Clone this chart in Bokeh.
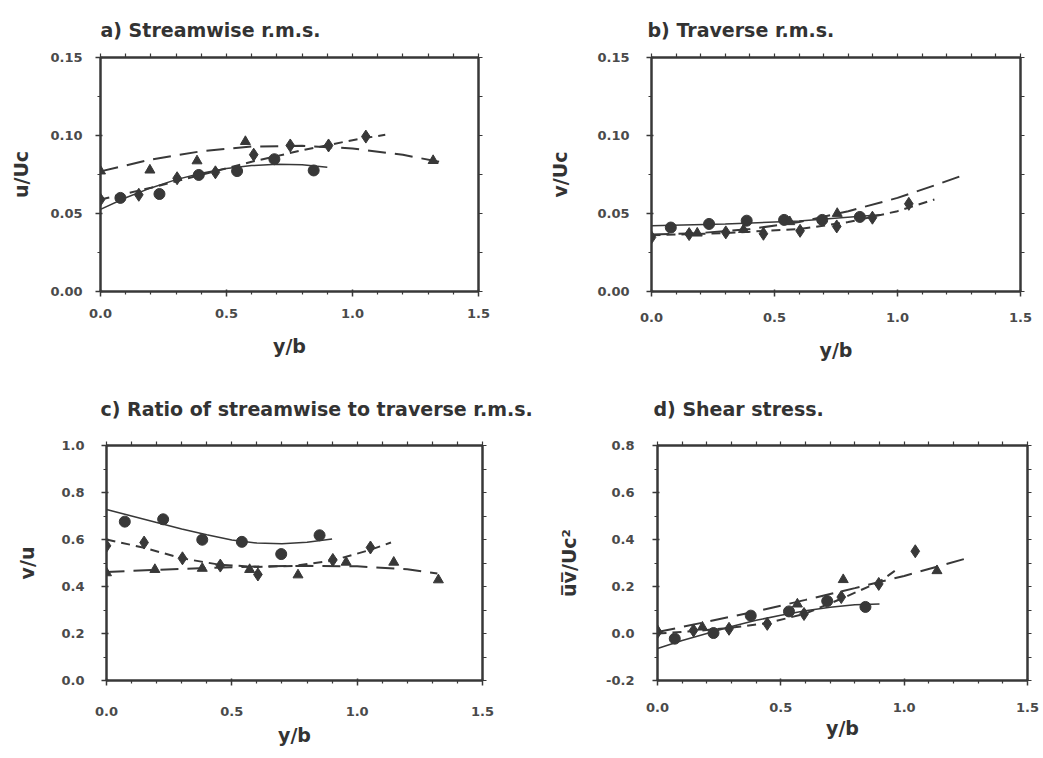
from bokeh.plotting import figure
from bokeh.layouts import row, column
from bokeh.models import FixedTicker, LinearAxis, Range1d, PrintfTickFormatter
from bokeh.embed import file_html
from bokeh.resources import INLINE

# ---------------- data ----------------
# a) Streamwise r.m.s.  (y/b vs u/Uc)
a_circ_x = [0.079, 0.234, 0.39, 0.542, 0.69, 0.846]
a_circ_y = [0.060, 0.0625, 0.0747, 0.0772, 0.0848, 0.0776]
a_diam_x = [0.0, 0.152, 0.304, 0.456, 0.608, 0.753, 0.905, 1.053]
a_diam_y = [0.0589, 0.062, 0.0726, 0.0764, 0.0877, 0.0936, 0.0936, 0.0993]
a_tri_x = [0.0, 0.196, 0.383, 0.575, 1.32]
a_tri_y = [0.0772, 0.0778, 0.0837, 0.0961, 0.0839]
a_circ_fit_x = [0.0, 0.1, 0.2, 0.3, 0.4, 0.5, 0.6, 0.7, 0.8, 0.9]
a_circ_fit_y = [0.0526, 0.0601, 0.0664, 0.0717, 0.0758, 0.0788, 0.0807, 0.0815, 0.0812, 0.0797]
a_diam_fit_x = [0.0, 0.2, 0.4, 0.6, 0.8, 1.0, 1.13]
a_diam_fit_y = [0.059, 0.0665, 0.0748, 0.0832, 0.0905, 0.097, 0.1005]
a_tri_fit_x = [0.0, 0.2, 0.4, 0.6, 0.8, 1.0, 1.2, 1.35]
a_tri_fit_y = [0.077, 0.0846, 0.0899, 0.0929, 0.0934, 0.0917, 0.0876, 0.0830]

# b) Traverse r.m.s.  (y/b vs v/Uc)
b_circ_x = [0.0785, 0.234, 0.387, 0.539, 0.694, 0.847]
b_circ_y = [0.041, 0.0433, 0.0454, 0.0459, 0.0459, 0.0478]
b_diam_x = [0.0, 0.153, 0.302, 0.455, 0.604, 0.753, 0.898, 1.046]
b_diam_y = [0.0347, 0.0368, 0.0379, 0.037, 0.0389, 0.0417, 0.0473, 0.0562]
b_tri_x = [0.186, 0.374, 0.562, 0.755]
b_tri_y = [0.0374, 0.0397, 0.0447, 0.050]
b_circ_fit_x = [0.0, 0.3, 0.6, 0.93]
b_circ_fit_y = [0.0422, 0.0432, 0.0452, 0.0492]
b_diam_fit_x = [0.0, 0.3, 0.6, 0.8, 1.0, 1.15]
b_diam_fit_y = [0.036, 0.0375, 0.040, 0.0445, 0.0515, 0.059]
b_tri_fit_x = [0.0, 0.2, 0.4, 0.6, 0.8, 1.0, 1.15, 1.27]
b_tri_fit_y = [0.0365, 0.0375, 0.040, 0.0445, 0.0515, 0.060, 0.068, 0.0747]

# c) Ratio of streamwise to traverse r.m.s.  (y/b vs v/u)
c_circ_x = [0.073, 0.226, 0.382, 0.54, 0.697, 0.85]
c_circ_y = [0.676, 0.686, 0.599, 0.59, 0.538, 0.618]
c_diam_x = [0.0, 0.15, 0.303, 0.454, 0.604, 0.903, 1.053]
c_diam_y = [0.573, 0.587, 0.52, 0.489, 0.451, 0.513, 0.566]
c_tri_x = [0.0, 0.193, 0.382, 0.571, 0.764, 0.956, 1.146, 1.324]
c_tri_y = [0.458, 0.472, 0.477, 0.472, 0.449, 0.503, 0.503, 0.428]
c_circ_fit_x = [0.0, 0.1, 0.2, 0.3, 0.4, 0.5, 0.6, 0.7, 0.8, 0.9]
c_circ_fit_y = [0.728, 0.700, 0.672, 0.645, 0.620, 0.598, 0.585, 0.582, 0.588, 0.602]
c_diam_fit_x = [0.0, 0.15, 0.3, 0.45, 0.6, 0.75, 0.9, 1.05, 1.135]
c_diam_fit_y = [0.60, 0.565, 0.52, 0.493, 0.483, 0.488, 0.51, 0.555, 0.587]
c_tri_fit_x = [0.0, 0.2, 0.4, 0.6, 0.8, 1.0, 1.2, 1.32]
c_tri_fit_y = [0.462, 0.471, 0.479, 0.485, 0.488, 0.486, 0.473, 0.455]

# d) Shear stress  (y/b vs uv/Uc^2)
d_circ_x = [0.07, 0.227, 0.378, 0.533, 0.688, 0.843]
d_circ_y = [-0.022, 0.002, 0.076, 0.094, 0.138, 0.113]
d_diam_x = [0.0, 0.146, 0.29, 0.445, 0.594, 0.745, 0.897, 1.045]
d_diam_y = [0.006, 0.013, 0.02, 0.041, 0.083, 0.155, 0.211, 0.35]
d_tri_x = [0.0, 0.182, 0.567, 0.753, 1.133]
d_tri_y = [0.013, 0.027, 0.125, 0.229, 0.267]
d_circ_fit_x = [0.0, 0.1, 0.2, 0.3, 0.4, 0.5, 0.6, 0.7, 0.8, 0.9]
d_circ_fit_y = [-0.064, -0.03, 0.0, 0.03, 0.056, 0.078, 0.097, 0.112, 0.122, 0.126]
d_diam_fit_x = [0.0, 0.15, 0.3, 0.45, 0.6, 0.75, 0.9, 0.98]
d_diam_fit_y = [0.0, 0.01, 0.025, 0.045, 0.085, 0.15, 0.22, 0.28]
d_tri_fit_x = [0.0, 0.2, 0.4, 0.6, 0.8, 1.0, 1.26]
d_tri_fit_y = [0.006, 0.05, 0.094, 0.143, 0.193, 0.245, 0.322]

x_ticks = [0.0, 0.5, 1.0, 1.5]
a_ticks = [0.0, 0.05, 0.10, 0.15]
b_ticks = [0.0, 0.05, 0.10, 0.15]
c_ticks = [0.0, 0.2, 0.4, 0.6, 0.8, 1.0]
d_ticks = [-0.2, 0.0, 0.2, 0.4, 0.6, 0.8]

INK = "#383838"
FONT = "DejaVu Sans"


def minor(ticks, n):
    out = []
    for t0, t1 in zip(ticks[:-1], ticks[1:]):
        for k in range(1, n):
            out.append(t0 + (t1 - t0) * k / n)
    return out


def style_lines(ax):
    ax.axis_line_color = INK
    ax.axis_line_width = 2
    ax.major_tick_line_color = INK
    ax.major_tick_line_width = 1.5
    ax.minor_tick_line_color = INK
    ax.minor_tick_line_width = 1.2


def main_axis(ax, ticks, minors, fmt, tick_so, label, label_so):
    ax.ticker = FixedTicker(ticks=ticks, minor_ticks=minors)
    style_lines(ax)
    ax.major_tick_out = 5
    ax.major_tick_in = 2
    ax.minor_tick_out = 3
    ax.minor_tick_in = 0
    ax.formatter = PrintfTickFormatter(format=fmt)
    ax.major_label_text_font = FONT
    ax.major_label_text_font_style = "bold"
    ax.major_label_text_font_size = "13px"
    ax.major_label_text_color = "#4a4a4a"
    ax.major_label_standoff = tick_so
    ax.axis_label = label
    ax.axis_label_text_font = FONT
    ax.axis_label_text_font_style = "bold"
    ax.axis_label_text_font_size = "19px"
    ax.axis_label_text_color = "#333333"
    ax.axis_label_standoff = label_so


def frame_axis(ticks, minors):
    # box side with tick marks only (no labels): all ticks given as minor ticks
    ax = LinearAxis(ticker=FixedTicker(ticks=[], minor_ticks=sorted(ticks + minors)))
    style_lines(ax)
    ax.minor_tick_out = 4
    ax.minor_tick_in = 0
    return ax


def panel(title, ylabel, yticks, yfmt, ylo, yhi, width, height,
          bl, br, bt, bb, ylab_so, ytick_so, xtick_so, xlab_so, title_so, title_off,
          circ, diam, tri, circ_fit, diam_fit, tri_fit):
    p = figure(width=width, height=height, output_backend="svg", toolbar_location=None,
               x_range=Range1d(0.0, 1.5), y_range=Range1d(ylo, yhi),
               min_border_left=bl, min_border_right=br, min_border_top=bt, min_border_bottom=bb)
    p.background_fill_color = "white"
    p.border_fill_color = "white"
    p.outline_line_color = INK
    p.outline_line_width = 2
    p.grid.visible = False

    p.title.text = title
    p.title.text_font = FONT
    p.title.text_font_style = "bold"
    p.title.text_font_size = "19px"
    p.title.text_color = "#333333"
    p.title.align = "left"
    p.title.vertical_align = "top"
    p.title.standoff = title_so
    p.title.offset = title_off

    xm = minor(x_ticks, 5)
    ym = minor(yticks, 2)
    main_axis(p.xaxis[0], x_ticks, xm, "%.1f", xtick_so, "y/b", xlab_so)
    main_axis(p.yaxis[0], yticks, ym, yfmt, ytick_so, ylabel, ylab_so)

    p.add_layout(frame_axis(x_ticks, xm), "above")
    p.add_layout(frame_axis(yticks, ym), "right")

    # fitted curves
    p.line(circ_fit[0], circ_fit[1], line_color=INK, line_width=1.5)
    p.line(diam_fit[0], diam_fit[1], line_color=INK, line_width=2, line_dash="9 6")
    p.line(tri_fit[0], tri_fit[1], line_color=INK, line_width=2, line_dash="18 9")
    # measured points
    p.scatter(circ[0], circ[1], marker="circle", size=11, fill_color=INK, line_color=INK)
    p.scatter(diam[0], diam[1], marker="diamond", size=13, fill_color=INK, line_color=INK)
    p.scatter(tri[0], tri[1], marker="triangle", size=10, fill_color=INK, line_color=INK)
    return p


pa = panel("a) Streamwise r.m.s.", "u/Uc", a_ticks, "%.2f", 0.0, 0.15, 521, 370,
           100, 43, 57, 75, 15, 13, 12, 14, 21, 0,
           (a_circ_x, a_circ_y), (a_diam_x, a_diam_y), (a_tri_x, a_tri_y),
           (a_circ_fit_x, a_circ_fit_y), (a_diam_fit_x, a_diam_fit_y), (a_tri_fit_x, a_tri_fit_y))
pb = panel("b) Traverse r.m.s.", "v/Uc", b_ticks, "%.2f", 0.0, 0.15, 522, 370,
           130, 23, 53, 79, 23, 17, 16, 14, 21, -4,
           (b_circ_x, b_circ_y), (b_diam_x, b_diam_y), (b_tri_x, b_tri_y),
           (b_circ_fit_x, b_circ_fit_y), (b_diam_fit_x, b_diam_fit_y), (b_tri_fit_x, b_tri_fit_y))
pc = panel("c) Ratio of streamwise to traverse r.m.s.", "v/u", c_ticks, "%.1f", 0.0, 1.0, 545, 388,
           106, 63, 75, 73, 20, 17, 21, 5, 39, -6,
           (c_circ_x, c_circ_y), (c_diam_x, c_diam_y), (c_tri_x, c_tri_y),
           (c_circ_fit_x, c_circ_fit_y), (c_diam_fit_x, c_diam_fit_y), (c_tri_fit_x, c_tri_fit_y))
pd_ = panel("d) Shear stress.", "u\u0305v\u0305/Uc\u00b2", d_ticks, "%.1f", -0.2, 0.8, 498, 388,
            112, 16, 72, 78, 23, 18, 17, 2, 39, -4,
            (d_circ_x, d_circ_y), (d_diam_x, d_diam_y), (d_tri_x, d_tri_y),
            (d_circ_fit_x, d_circ_fit_y), (d_diam_fit_x, d_diam_fit_y), (d_tri_fit_x, d_tri_fit_y))

layout = column(row(pa, pb), row(pc, pd_))
open("out.html", "w").write(file_html(layout, INLINE))
